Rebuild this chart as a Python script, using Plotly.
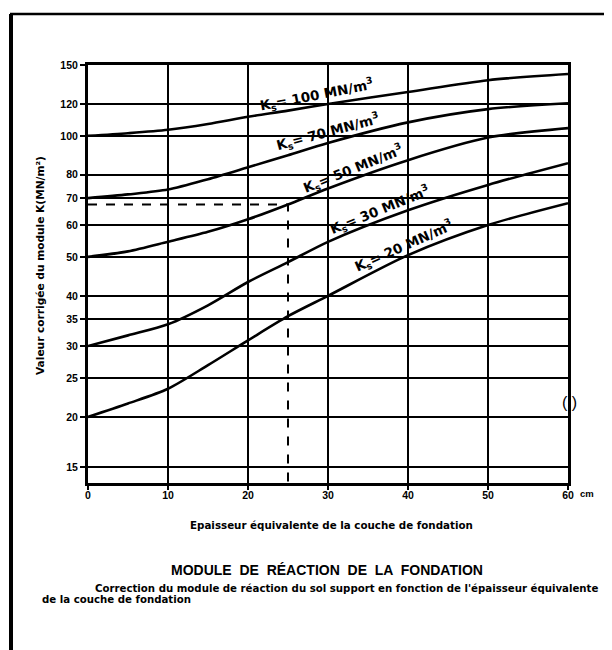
import math
import plotly.graph_objects as go

# ---- data ----
thickness_cm = [0, 5, 10, 15, 20, 25, 30, 40, 50, 60]
k_100 = [100, 101.5, 103.5, 107, 111.5, 115.5, 120, 128.5, 137.5, 142.5]
k_70 = [70, 71.5, 73.5, 78, 83.5, 89.5, 96, 108, 116.5, 120.5]
k_50 = [50, 51.6, 54.5, 57.7, 62, 67.5, 74, 87, 99, 104.5]
k_30 = [30, 31.9, 34, 37.9, 43.3, 48.5, 54.5, 65.3, 75.5, 85.5]
k_20 = [20, 21.6, 23.5, 26.9, 31, 35.6, 40, 50.5, 60, 68]
series_names = ["100", "70", "50", "30", "20"]
series_values = [k_100, k_70, k_50, k_30, k_20]

y_ticks = [15, 20, 25, 30, 35, 40, 50, 60, 70, 80, 100, 120, 150]
x_ticks = [0, 10, 20, 30, 40, 50, 60]
example_thickness = 25
example_k = 67.5
y_min, y_max = 13.7, 150

# label placement (x in cm, rotation in degrees)
label_x = [28.6, 30.0, 33.1, 36.5, 39.5]
label_angle = [-11, -15, -22, -22, -24]

FONT = "Liberation Sans"
FONT2 = "DejaVu Sans"

fig = go.Figure()

for name, vals in zip(series_names, series_values):
    fig.add_trace(go.Scatter(
        x=thickness_cm, y=vals, mode="lines",
        line=dict(color="black", width=2.6, shape="spline", smoothing=0.8),
        name=name, showlegend=False, hoverinfo="skip"))

# dashed reading example
fig.add_trace(go.Scatter(
    x=[0, example_thickness, example_thickness],
    y=[example_k, example_k, y_min],
    mode="lines", line=dict(color="black", width=2, dash="dash"),
    showlegend=False, hoverinfo="skip"))


def interp_log(xs, ys, x):
    for i in range(len(xs) - 1):
        if xs[i] <= x <= xs[i + 1]:
            t = (x - xs[i]) / (xs[i + 1] - xs[i])
            return 10 ** (math.log10(ys[i]) * (1 - t) + math.log10(ys[i + 1]) * t)
    return ys[-1]


def px_to_paper_x(px):
    return (px - 88) / 480


def py_to_paper_y(py):
    return (483 - py) / 418


annotations = []
for name, vals, lx, ang in zip(series_names, series_values, label_x, label_angle):
    yv = interp_log(thickness_cm, vals, lx)
    annotations.append(dict(
        x=lx, y=math.log10(yv), xref="x", yref="y",
        text=f"K<sub>s</sub>= {name} MN/m<sup>3</sup>",
        showarrow=False, textangle=ang, yshift=11,
        font=dict(family=FONT2, size=13.5, color="black", weight="bold")))


def paper_text(px, py, text, family, size, angle=0, xanchor="center", weight="bold"):
    return dict(x=px_to_paper_x(px), y=py_to_paper_y(py), xref="paper", yref="paper",
                text=text, showarrow=False, textangle=angle,
                xanchor=xanchor, yanchor="middle",
                font=dict(family=family, size=size, color="black", weight=weight))


annotations += [
    paper_text(578, 493, "cm", FONT, 9.5, xanchor="left"),
    paper_text(331, 525, "Epaisseur équivalente de la couche de fondation", FONT2, 10.3),
    paper_text(327, 570, "MODULE  DE  RÉACTION  DE  LA  FONDATION", FONT, 14),
    paper_text(93, 588,
               "Correction du module de réaction du sol support en fonction de l'épaisseur équivalente",
               FONT2, 10.2, xanchor="left"),
    paper_text(40, 599, "de la couche de fondation", FONT2, 10.2, xanchor="left"),
    paper_text(40, 266, "Valeur corrigée du module K(MN/m²)", FONT2, 10.6, angle=-90),
    paper_text(569, 402, "( )", FONT, 16, weight="normal"),
]

shapes = [
    dict(type="line", xref="paper", yref="paper",
         x0=px_to_paper_x(11), y0=py_to_paper_y(650), x1=px_to_paper_x(11), y1=py_to_paper_y(14),
         line=dict(color="black", width=4)),
    dict(type="line", xref="paper", yref="paper",
         x0=px_to_paper_x(10), y0=py_to_paper_y(14), x1=px_to_paper_x(612), y1=py_to_paper_y(14),
         line=dict(color="black", width=2.5)),
]

# page body has an 8px margin: size/margins chosen so the plot area lands at x 88-568, y 65-483
fig.update_layout(
    width=604, height=642,
    margin=dict(l=80, r=44, t=57, b=167),
    paper_bgcolor="white", plot_bgcolor="white",
    annotations=annotations, shapes=shapes,
    showlegend=False,
)
fig.update_xaxes(
    range=[0, 60], tickvals=x_ticks, ticktext=[str(v) for v in x_ticks],
    showgrid=True, gridcolor="black", gridwidth=2,
    showline=True, linecolor="black", linewidth=3, mirror=True,
    ticks="outside", ticklen=4, tickwidth=2, tickcolor="black",
    ticklabelstandoff=-4,
    zeroline=False,
    tickfont=dict(family=FONT, size=10.5, color="black", weight="bold"),
)
fig.update_yaxes(
    type="log", range=[math.log10(y_min), math.log10(y_max)],
    tickvals=y_ticks, ticktext=[str(v) for v in y_ticks],
    showgrid=True, gridcolor="black", gridwidth=2,
    showline=True, linecolor="black", linewidth=3, mirror=True,
    ticks="outside", ticklen=5, tickwidth=2, tickcolor="black",
    zeroline=False,
    tickfont=dict(family=FONT, size=10.5, color="black", weight="bold"),
)

fig.write_html("out.html")
